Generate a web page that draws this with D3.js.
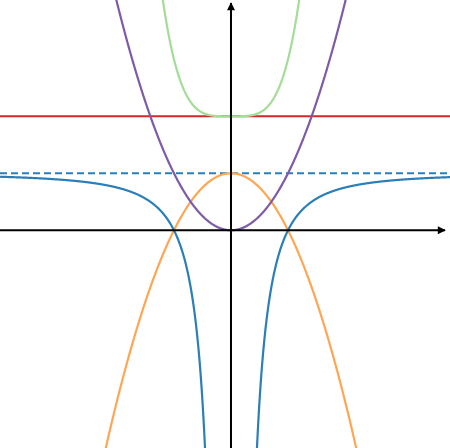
<!DOCTYPE html>
<html><head><meta charset="utf-8">
<script src="https://cdn.jsdelivr.net/npm/d3@7"></script>
<style>html,body{margin:0;padding:0;background:#fff}svg{display:block}</style>
</head><body>
<script>
// Curves (unit = 1 on both axes)
const xDomain = [-4.05, 3.84];
const yDomain = [-3.82, 4.04];
const hLineRed = [2];            // y = 2
const hLineDashed = [1];         // y = 1 (asymptote)
// polynomial coefficients [c0, c1, c2, c3, c4] : y = sum c_k x^k
const polyPurple = [0, 0, 1, 0, 0];   // y = x^2
const polyOrange = [1, 0, -1, 0, 0];  // y = 1 - x^2
const polyGreen  = [2, 0, 0, 0, 1];   // y = 2 + x^4
// rational: y = a - b / x^2
const ratBlue = [1, 1];
const colors = {red:"#d62728", dashed:"#2a7fb8", purple:"#7d5ba6", orange:"#ffa655", green:"#a5dc98", blue:"#2a7fb8"};

const W = 450, H = 448;
const x = d3.scaleLinear().domain(xDomain).range([0, 450]);
const y = d3.scaleLinear().domain(yDomain).range([448, 0]);
const svg = d3.select("body").append("svg").attr("width", W).attr("height", H);

const line = d3.line().x(d => x(d[0])).y(d => y(d[1])).defined(d => isFinite(d[1]) && d[1] > -6 && d[1] < 7);
const poly = c => t => c.reduce((s, ck, k) => s + ck * Math.pow(t, k), 0);
const xs = d3.range(xDomain[0], xDomain[1] + 0.001, 0.005);

function drawCurve(f, col, xsArr) {
  svg.append("path").datum(xsArr.map(t => [t, f(t)])).attr("d", line)
    .attr("fill", "none").attr("stroke", col).attr("stroke-width", 2.2);
}

// horizontal lines
hLineRed.forEach(v => svg.append("line").attr("x1", 0).attr("x2", W).attr("y1", y(v)).attr("y2", y(v))
  .attr("stroke", colors.red).attr("stroke-width", 2.2));
hLineDashed.forEach(v => svg.append("line").attr("x1", 0).attr("x2", W).attr("y1", y(v)).attr("y2", y(v))
  .attr("stroke", colors.dashed).attr("stroke-width", 2.2).attr("stroke-dasharray", "7,4"));

drawCurve(poly(polyGreen), colors.green, xs);
drawCurve(poly(polyOrange), colors.orange, xs);
drawCurve(poly(polyPurple), colors.purple, xs);
const rat = t => ratBlue[0] - ratBlue[1] / (t * t);
drawCurve(rat, colors.blue, xs.filter(t => t < -0.05));
drawCurve(rat, colors.blue, xs.filter(t => t > 0.05));

// axes with arrows
const defs = svg.append("defs");
defs.append("marker").attr("id", "arr").attr("viewBox", "0 0 10 10").attr("refX", 9).attr("refY", 5)
  .attr("markerWidth", 10).attr("markerHeight", 8).attr("markerUnits", "userSpaceOnUse").attr("orient", "auto")
  .append("path").attr("d", "M0,0 L10,5 L0,10 Z").attr("fill", "#000");
svg.append("line").attr("x1", 0).attr("x2", 445).attr("y1", y(0)).attr("y2", y(0))
  .attr("stroke", "#000").attr("stroke-width", 2).attr("marker-end", "url(#arr)");
svg.append("line").attr("x1", x(0)).attr("x2", x(0)).attr("y1", H).attr("y2", 3)
  .attr("stroke", "#000").attr("stroke-width", 2).attr("marker-end", "url(#arr)");
</script>
</body></html>
